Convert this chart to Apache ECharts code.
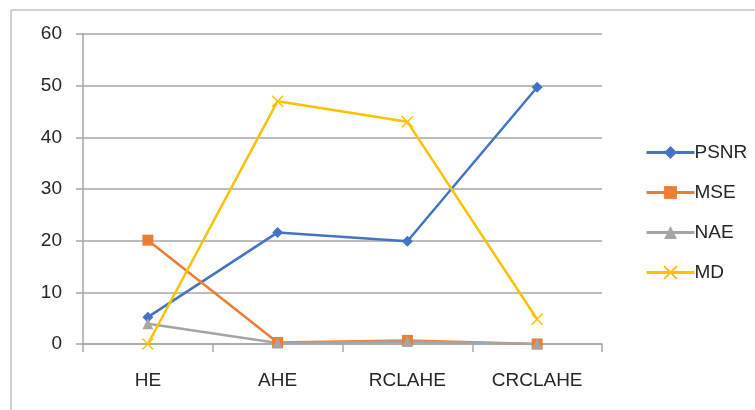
<!DOCTYPE html>
<html>
<head>
<meta charset="utf-8">
<script src="https://cdn.jsdelivr.net/npm/echarts@6/dist/echarts.min.js"></script>
<style>
  html, body { margin: 0; padding: 0; background: #fff; }
  #chart { width: 755px; height: 410px; }
</style>
</head>
<body>
<div id="chart"></div>
<script>
// categories and values
const categories = ['HE', 'AHE', 'RCLAHE', 'CRCLAHE'];
const psnr = [5.2, 21.6, 19.9, 49.7];
const mse = [20.1, 0.3, 0.7, 0.0];
const nae = [3.9, 0.2, 0.5, 0.0];
const md = [0.0, 47.0, 43.0, 4.8];

const font = 'Liberation Sans';
const xMark = 'path://M0,0L10,10M10,0L0,10';

const myChart = echarts.init(document.getElementById('chart'));

function lineSeries(name, data, color, symbol, size) {
  return {
    name,
    type: 'line',
    data,
    symbol,
    symbolSize: size,
    showAllSymbol: true,
    lineStyle: { color, width: 2.5 },
    itemStyle: symbol === xMark
      ? { color: 'transparent', borderColor: color, borderWidth: 1.5 }
      : { color, borderColor: color, borderWidth: 0 },
    emphasis: { disabled: true },
  };
}

const option = {
  animation: false,
  textStyle: { fontFamily: font },
  graphic: [{
    type: 'rect',
    shape: { x: 11, y: 10, width: 760, height: 420 },
    style: { fill: 'none', stroke: '#a6a6a6', lineWidth: 1 },
    silent: true,
  }],
  grid: { left: 83, right: 153, top: 34, bottom: 66 },
  legend: {
    orient: 'vertical',
    left: 640,
    top: 138,
    itemWidth: 48,
    itemHeight: 16,
    itemGap: 21,
    lineStyle: { width: 3 },
    textStyle: { fontSize: 19, color: '#262626', fontFamily: font, padding: [0, 0, 0, -5] },
    data: ['PSNR', 'MSE', 'NAE', 'MD'],
  },
  xAxis: {
    type: 'category',
    data: categories,
    boundaryGap: true,
    axisLine: { lineStyle: { color: '#a6a6a6', width: 1.5 } },
    axisTick: { show: true, length: 8, lineStyle: { color: '#a6a6a6', width: 1.5 } },
    axisLabel: { fontSize: 19, color: '#262626', margin: 27, fontFamily: font },
  },
  yAxis: {
    type: 'value',
    min: 0,
    max: 60,
    interval: 10,
    axisLine: { show: true, lineStyle: { color: '#a6a6a6', width: 1.5 } },
    axisTick: { show: true, length: 7, lineStyle: { color: '#a6a6a6', width: 1.5 } },
    splitLine: { lineStyle: { color: '#a6a6a6', width: 1.5 } },
    axisLabel: { fontSize: 19, color: '#262626', margin: 21, fontFamily: font },
  },
  series: [
    lineSeries('PSNR', psnr, '#4472C4', 'diamond', 11),
    lineSeries('MSE', mse, '#ED7D31', 'rect', 11),
    lineSeries('NAE', nae, '#A5A5A5', 'triangle', 11),
    lineSeries('MD', md, '#FFC000', xMark, 11),
  ],
};

myChart.setOption(option);
</script>
</body>
</html>
